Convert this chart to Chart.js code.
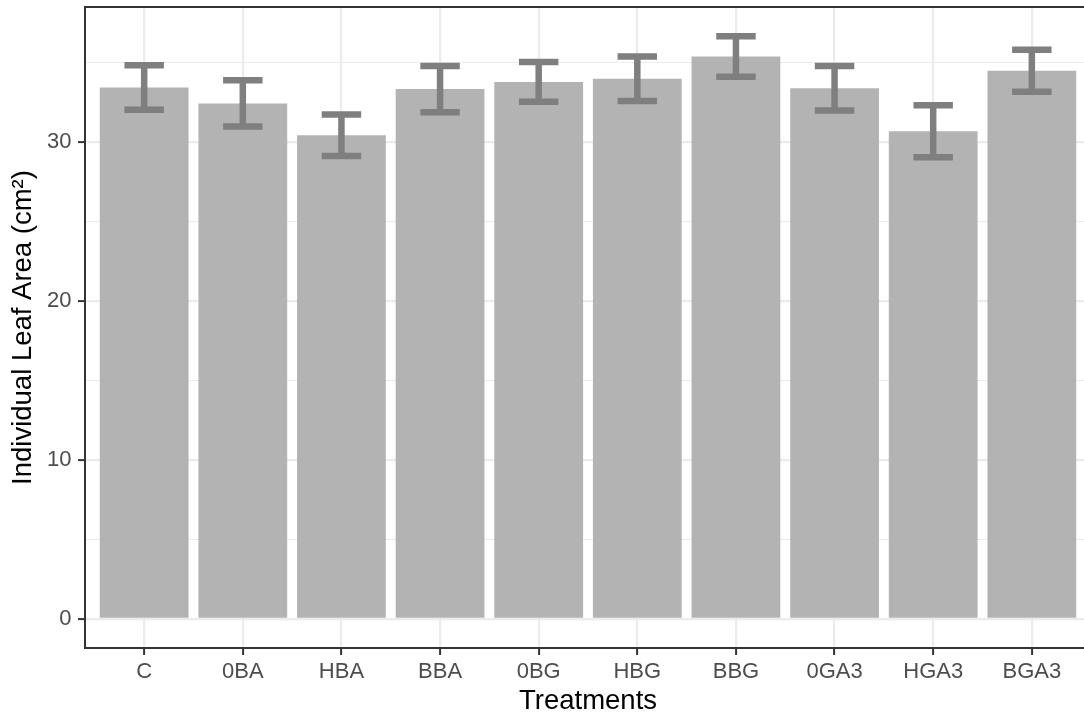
<!DOCTYPE html>
<html>
<head>
<meta charset="utf-8">
<script src="https://cdn.jsdelivr.net/npm/chart.js"></script>
<style>
  body { margin: 0; overflow: hidden; background: #fff; }
</style>
</head>
<body>
<canvas id="myChart" width="1100" height="718"></canvas>
<script>
const categories = ['C', '0BA', 'HBA', 'BBA', '0BG', 'HBG', 'BBG', '0GA3', 'HGA3', 'BGA3'];
const means = [33.4, 32.4, 30.4, 33.3, 33.75, 33.95, 35.35, 33.35, 30.65, 34.45];
const errors = [1.4, 1.45, 1.3, 1.45, 1.25, 1.4, 1.28, 1.4, 1.63, 1.32];
const yMajor = [0, 10, 20, 30];
const yMinor = [5, 15, 25, 35];

const fontFamily = '"Liberation Sans", Arial, sans-serif';

// ggplot-like 5% expansion around the data (bars start at 0)
const topValue = Math.max(...means.map((m, i) => m + errors[i]));
const pad = topValue * 0.05;

const errorBars = {
    id: 'errorBars',
    afterDatasetsDraw(chart) {
        const { ctx, scales: { x, y }, chartArea } = chart;
        ctx.save();
        ctx.strokeStyle = '#7f7f7f';
        ctx.lineWidth = 6.5;
        ctx.lineCap = 'butt';
        means.forEach((m, i) => {
            const lo = y.getPixelForValue(m - errors[i]);
            const hi = y.getPixelForValue(m + errors[i]);
            const xc = x.getPixelForValue(i);
            const xl = x.getPixelForValue(i - 0.2);
            const xr = x.getPixelForValue(i + 0.2);
            ctx.beginPath();
            ctx.moveTo(xc, lo); ctx.lineTo(xc, hi);
            ctx.moveTo(xl, lo); ctx.lineTo(xr, lo);
            ctx.moveTo(xl, hi); ctx.lineTo(xr, hi);
            ctx.stroke();
        });
        // panel border
        ctx.strokeStyle = '#333333';
        ctx.lineWidth = 2;
        ctx.strokeRect(chartArea.left, chartArea.top, chartArea.width, chartArea.height);
        ctx.restore();
    }
};

const ctx = document.getElementById('myChart').getContext('2d');
new Chart(ctx, {
    type: 'bar',
    data: {
        datasets: [{
            data: means.map((m, i) => ({ x: i, y: m })),
            backgroundColor: '#b3b3b3',
            borderWidth: 0,
            barPercentage: 0.9,
            categoryPercentage: 1.0,
        }],
    },
    options: {
        responsive: false,
        animation: false,
        layout: { padding: { top: 7, right: 9, left: 0, bottom: 0 } },
        plugins: {
            legend: { display: false },
            tooltip: { enabled: false },
        },
        scales: {
            x: {
                type: 'linear',
                min: -0.6,
                max: categories.length - 1 + 0.6,
                offset: false,
                afterBuildTicks: (scale) => {
                    scale.ticks = categories.map((_, i) => ({ value: i }));
                },
                afterFit: (scale) => {
                    scale.height = 70;
                    scale.paddingLeft = 0;
                    scale.paddingRight = 0;
                },
                border: { display: false },
                grid: {
                    offset: false,
                    color: '#ebebeb',
                    lineWidth: 2.2,
                    tickLength: 7,
                    tickColor: '#333333',
                    tickWidth: 2,
                },
                ticks: {
                    autoSkip: false,
                    maxRotation: 0,
                    padding: 4,
                    color: '#4d4d4d',
                    font: { family: fontFamily, size: 22 },
                    callback: (v) => categories[v],
                },
                title: {
                    display: true,
                    text: 'Treatments',
                    color: '#000000',
                    font: { family: fontFamily, size: 27.5 },
                    padding: 0,
                },
            },
            y: {
                min: -pad,
                max: topValue + pad,
                afterBuildTicks: (scale) => {
                    scale.ticks = [...yMajor, ...yMinor].sort((a, b) => a - b).map(v => ({ value: v }));
                },
                afterFit: (scale) => {
                    scale.width = 85;
                    scale.paddingTop = 0;
                    scale.paddingBottom = 0;
                },
                border: { display: false },
                grid: {
                    color: '#ebebeb',
                    lineWidth: (c) => (c.tick && yMajor.includes(c.tick.value)) ? 2.2 : 1.1,
                    tickLength: 7,
                    tickColor: (c) => (c.tick && yMajor.includes(c.tick.value)) ? '#333333' : 'rgba(0,0,0,0)',
                    tickWidth: 2,
                },
                ticks: {
                    padding: 6.5,
                    color: '#4d4d4d',
                    font: { family: fontFamily, size: 22 },
                    callback: (v) => yMajor.includes(v) ? String(v) : '',
                },
                title: {
                    display: true,
                    text: 'Individual Leaf Area (cm\u00B2)',
                    color: '#000000',
                    font: { family: fontFamily, size: 27.5 },
                    padding: { top: 7, bottom: 0 },
                },
            },
        },
    },
    plugins: [errorBars],
});
</script>
</body>
</html>
